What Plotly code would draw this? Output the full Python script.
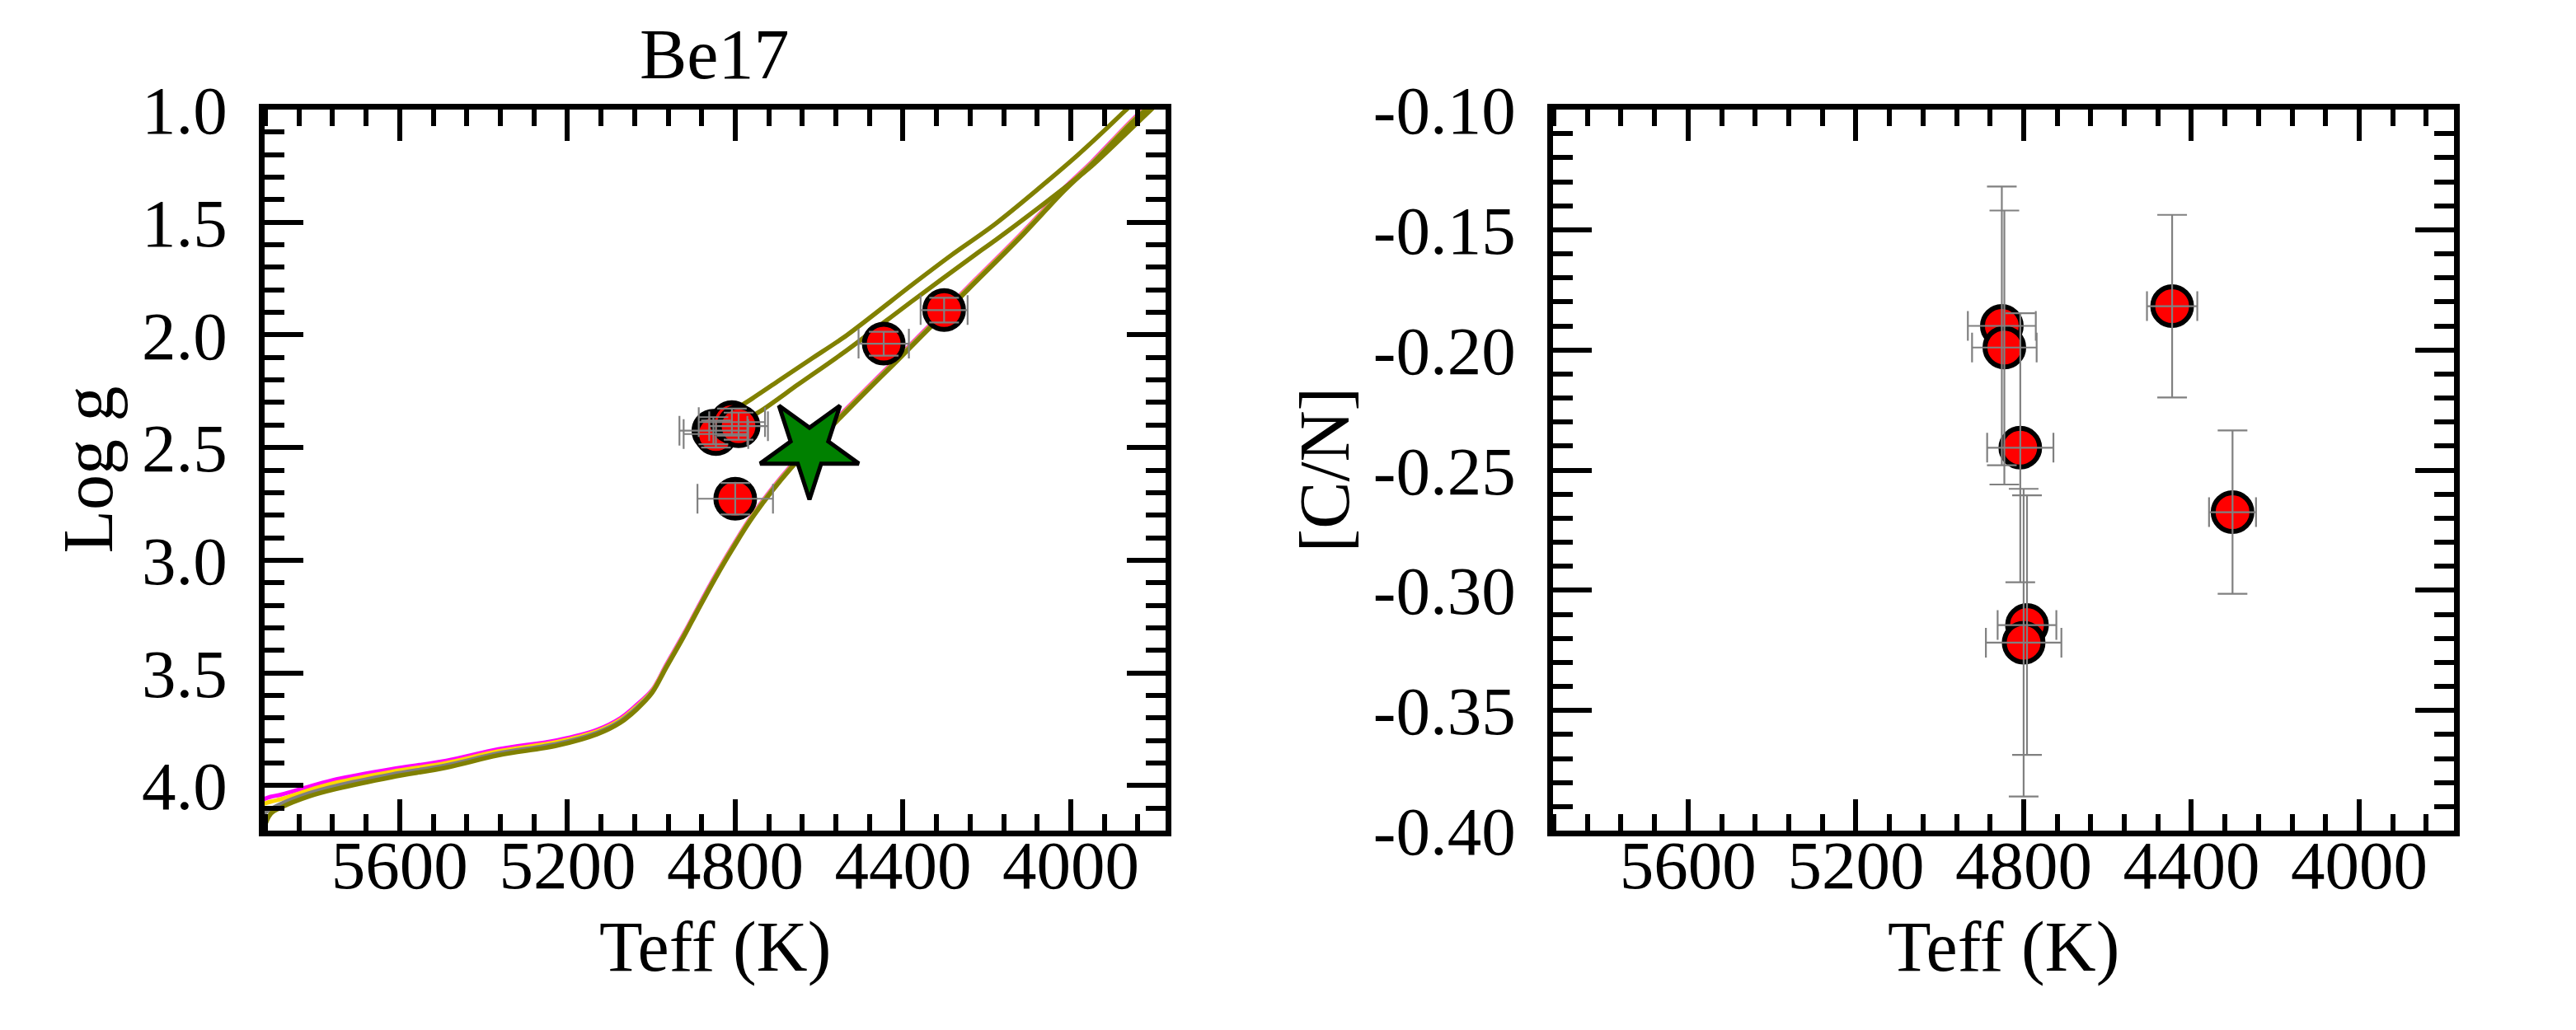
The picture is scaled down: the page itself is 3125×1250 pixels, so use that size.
import plotly.graph_objects as go

# ---------------- data ----------------
# stars (Teff, log g, [C/N]) with errors
teff = [4852, 4846, 4808, 4792, 4800, 4446, 4302]
teff_err = [81, 77, 79, 70, 90, 60, 56]
logg = [2.425, 2.44, 2.387, 2.405, 2.727, 2.039, 1.89]
logg_err = [0.06, 0.06, 0.06, 0.06, 0.07, 0.053, 0.055]
cn = [-0.190, -0.199, -0.2407, -0.3145, -0.3218, -0.1818, -0.2675]
cn_err = [0.058, 0.057, 0.056, 0.054, 0.064, 0.038, 0.034]

# cluster mean (green star)
mean_teff = [4623]
mean_logg = [2.50]

# isochrones: main sequence -> RGB tip
iso_teff = [5930, 5908, 5882, 5816, 5751, 5620, 5489, 5365, 5223, 5129, 5073,
            5035, 4998, 4965, 4923, 4890, 4848, 4808, 4755, 4667, 4608, 4552,
            4487, 4421, 4356, 4245, 4114, 4015, 3950, 3852, 3790]
iso_logg_olive = [4.23, 4.127, 4.097, 4.048, 4.015, 3.963, 3.920, 3.866, 3.822, 3.772, 3.720,
                  3.662, 3.588, 3.478, 3.340, 3.225, 3.082, 2.955, 2.800, 2.592, 2.478, 2.372,
                  2.250, 2.128, 2.006, 1.799, 1.555, 1.359, 1.244, 1.055, 0.950]
iso_logg_gray = [4.130, 4.105, 4.080, 4.034, 4.001, 3.951, 3.910, 3.857, 3.814, 3.765, 3.713,
                 3.655, 3.584, 3.474, 3.336, 3.221, 3.078, 2.951, 2.796, 2.588, 2.474, 2.368,
                 2.246, 2.124, 2.002, 1.795, 1.551, 1.355, 1.240, 1.051, 0.946]
iso_logg_gold = [4.085, 4.072, 4.060, 4.020, 3.987, 3.939, 3.900, 3.848, 3.806, 3.759, 3.707,
                 3.649, 3.580, 3.470, 3.332, 3.217, 3.074, 2.947, 2.792, 2.584, 2.470, 2.364,
                 2.242, 2.120, 1.998, 1.791, 1.547, 1.351, 1.236, 1.047, 0.942]
iso_logg_magenta = [4.065, 4.050, 4.040, 4.005, 3.972, 3.927, 3.890, 3.839, 3.798, 3.752, 3.700,
                    3.642, 3.576, 3.466, 3.328, 3.213, 3.070, 2.943, 2.788, 2.580, 2.466, 2.360,
                    2.238, 2.116, 1.994, 1.787, 1.543, 1.347, 1.232, 1.043, 0.938]

# later evolutionary branches (olive isochrone)
br1_teff = [4800, 4760, 4700, 4620, 4533, 4376, 4284, 4179, 3983, 3871, 3830]
br1_logg = [2.330, 2.283, 2.208, 2.108, 2.000, 1.774, 1.645, 1.506, 1.201, 1.006, 0.930]
br2_teff = [4790, 4742, 4650, 4533, 4376, 4225, 4179, 4015, 3950, 3812, 3780]
br2_logg = [2.390, 2.341, 2.220, 2.067, 1.847, 1.640, 1.579, 1.347, 1.250, 1.006, 0.950]

# ticks
teff_ticks = [5600, 5200, 4800, 4400, 4000]
teff_labels = ["5600", "5200", "4800", "4400", "4000"]
logg_ticks = [1.0, 1.5, 2.0, 2.5, 3.0, 3.5, 4.0]
logg_labels = ["1.0", "1.5", "2.0", "2.5", "3.0", "3.5", "4.0"]
cn_ticks = [-0.40, -0.35, -0.30, -0.25, -0.20, -0.15, -0.10]
cn_labels = ["-0.40", "-0.35", "-0.30", "-0.25", "-0.20", "-0.15", "-0.10"]

# ---------------- figure ----------------
FONT = "Liberation Serif"
W, H = 3125, 1250
ML, MR, MT, MB = 313, 156, 125, 250
PW = W - ML - MR
PH = H - MT - MB


def px_x(p):
    return (p - ML) / PW


def px_y(p):
    return (H - MB - p) / PH


fig = go.Figure()

iso_sets = [("#FF00FF", iso_logg_magenta, 5), ("#FFD700", iso_logg_gold, 5),
            ("#808080", iso_logg_gray, 5), ("#808000", iso_logg_olive, 5.5)]
for col, lg, lw in iso_sets:
    fig.add_trace(go.Scatter(x=iso_teff, y=lg, mode="lines",
                             line=dict(color=col, width=lw, shape="spline", smoothing=1.0),
                             xaxis="x", yaxis="y", hoverinfo="skip"))
for bt, bl in [(br1_teff, br1_logg), (br2_teff, br2_logg)]:
    fig.add_trace(go.Scatter(x=bt, y=bl, mode="lines",
                             line=dict(color="#808000", width=5.5, shape="spline", smoothing=0.8),
                             xaxis="x", yaxis="y", hoverinfo="skip"))

marker = dict(size=47, color="red", line=dict(color="black", width=6))
errc = "#808080"

# left panel points + error bars on top
fig.add_trace(go.Scatter(x=teff, y=logg, mode="markers", marker=marker, xaxis="x", yaxis="y"))
fig.add_trace(go.Scatter(x=teff, y=logg, mode="markers",
                         marker=dict(size=0, color="rgba(0,0,0,0)"),
                         error_x=dict(type="data", array=teff_err, color=errc, thickness=2.2, width=18),
                         error_y=dict(type="data", array=logg_err, color=errc, thickness=2.2, width=18),
                         xaxis="x", yaxis="y"))
fig.add_trace(go.Scatter(x=mean_teff, y=mean_logg, mode="markers",
                         marker=dict(symbol="star", size=90, angle=180, color="green",
                                     line=dict(color="black", width=5)),
                         xaxis="x", yaxis="y"))

# right panel
fig.add_trace(go.Scatter(x=teff, y=cn, mode="markers", marker=marker, xaxis="x2", yaxis="y2"))
fig.add_trace(go.Scatter(x=teff, y=cn, mode="markers",
                         marker=dict(size=0, color="rgba(0,0,0,0)"),
                         error_x=dict(type="data", array=teff_err, color=errc, thickness=2.2, width=18),
                         error_y=dict(type="data", array=cn_err, color=errc, thickness=2.2, width=18),
                         xaxis="x2", yaxis="y2"))

tickfont = dict(family=FONT, size=83, color="black")
common = dict(showline=True, linewidth=6.5, linecolor="black", mirror="allticks",
              ticks="inside", tickcolor="black", tickwidth=5.5, showgrid=False,
              zeroline=False, tickfont=tickfont, tickmode="array")

xcommon = dict(common, range=[5922, 3774], tickvals=teff_ticks, ticktext=teff_labels,
               ticklen=38, ticklabelstandoff=-36,
               minor=dict(tickmode="linear", tick0=0, dtick=80, ticks="inside",
                          ticklen=20, tickwidth=5.5, tickcolor="black"))

d1 = [0, px_x(1406)]
d2 = [px_x(1876), 1]

fig.update_layout(
    width=W, height=H, showlegend=False,
    paper_bgcolor="white", plot_bgcolor="white",
    margin=dict(l=ML, r=MR, t=MT, b=MB, pad=0),
    xaxis=dict(xcommon, domain=d1, anchor="y"),
    xaxis2=dict(xcommon, domain=d2, anchor="y2"),
    yaxis=dict(common, domain=[0, 1], anchor="x", range=[4.2, 1.0],
               tickvals=logg_ticks, ticktext=logg_labels, ticklen=47, ticklabelstandoff=22,
               minor=dict(tickmode="linear", tick0=0, dtick=0.1, ticks="inside",
                          ticklen=24, tickwidth=5.5, tickcolor="black")),
    yaxis2=dict(common, domain=[0, 1], anchor="x2", range=[-0.40, -0.10],
                tickvals=cn_ticks, ticktext=cn_labels, ticklen=47, ticklabelstandoff=22,
                minor=dict(tickmode="linear", tick0=0, dtick=0.01, ticks="inside",
                           ticklen=24, tickwidth=5.5, tickcolor="black")),
)

tfont = dict(family=FONT, size=86, color="black")
ann = [
    dict(text="Be17", x=px_x(859), y=px_y(58)),
    dict(text="Teff (K)", x=px_x(859), y=px_y(1141)),
    dict(text="Teff (K)", x=px_x(2422), y=px_y(1141)),
    dict(text="Log g", x=px_x(98), y=0.5, textangle=-90),
    dict(text="[C/N]", x=px_x(1598), y=0.5, textangle=-90),
]
for a in ann:
    fig.add_annotation(xref="paper", yref="paper", showarrow=False,
                       xanchor="center", yanchor="middle", font=tfont, **a)

fig.write_html("out.html")
